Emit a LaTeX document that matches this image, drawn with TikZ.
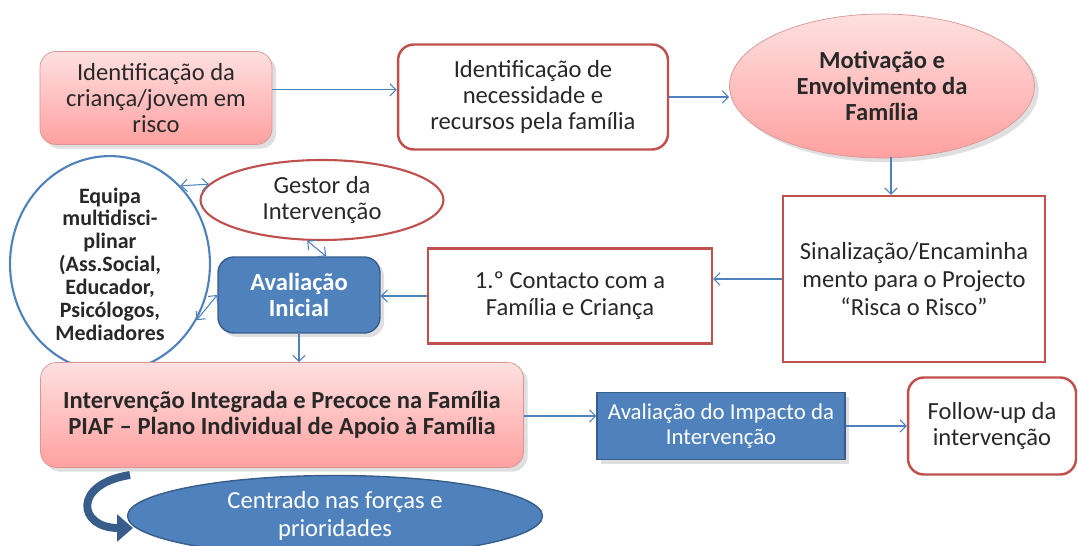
\documentclass[tikz,border=0pt]{standalone}
\usepackage{fontspec}
\setmainfont{Carlito}
\usetikzlibrary{shapes.geometric,shadows,arrows.meta}
\definecolor{lineblue}{RGB}{79,129,189}
\definecolor{darkblue}{RGB}{56,93,138}
\definecolor{boxred}{RGB}{192,80,77}
\definecolor{pinktop}{RGB}{255,224,224}
\definecolor{pinkbot}{RGB}{255,160,160}
\definecolor{textgray}{RGB}{40,40,40}
\tikzstyle{txt}=[font=\fontsize{14}{14.8}\selectfont,text=textgray,align=center,inner sep=1pt]
\tikzstyle{pinkbox}=[txt,rectangle,rounded corners=9pt,draw=boxred!60,top color=pinktop,bottom color=pinkbot,drop shadow={opacity=0.25}]
\tikzstyle{whitebox}=[txt,rectangle,draw=boxred,line width=1.4pt,fill=white]
\tikzstyle{bluebox}=[txt,rectangle,draw=darkblue,line width=0.8pt,fill=lineblue,text=white,drop shadow={opacity=0.25}]
\tikzstyle{oval}=[txt,ellipse,inner sep=0pt]
\tikzstyle{edge}=[draw,lineblue,line width=0.6pt,-{Straight Barb[length=3.5pt,width=7pt]}]
\tikzstyle{twoway}=[draw,lineblue,line width=0.6pt,{Straight Barb[length=3.5pt,width=7pt]}-{Straight Barb[length=3.5pt,width=7pt]}]

\begin{document}
\begin{tikzpicture}[x=0.02cm,y=-0.02cm]
\useasboundingbox (0,0) rectangle (1078,546);

% top row
\node[pinkbox,minimum width=4.64cm,minimum height=1.86cm] (crianca) at (156,98) {Identificação da\\criança/jovem em\\risco};
\node[whitebox,rounded corners=9pt,minimum width=5.4cm,minimum height=2.1cm] (necessidade) at (533,97) {Identificação de\\necessidade e\\recursos pela família};
\node[oval,draw=boxred!60,top color=pinktop,bottom color=pinkbot,minimum width=6.1cm,minimum height=2.88cm,font=\fontsize{14}{14.8}\selectfont\bfseries,drop shadow={opacity=0.25}] (motivacao) at (882,86) {Motivação e\\Envolvimento da\\Família};

% middle row
\node[whitebox,minimum width=5.24cm,minimum height=3.32cm,font=\fontsize{14}{16}\selectfont] (sinalizacao) at (914,279) {Sinalização/Encaminha\\mento para o Projecto\\“Risca o Risco”};
\node[whitebox,minimum width=5.68cm,minimum height=1.9cm,font=\fontsize{14}{15.5}\selectfont] (contacto) at (570,296) {1.º Contacto com a\\Família e Criança};
\node[bluebox,rounded corners=9pt,minimum width=3.24cm,minimum height=1.52cm,font=\fontsize{14}{14.8}\selectfont\bfseries] (avaliacao) at (299,295) {Avaliação\\Inicial};
\node[oval,draw=boxred,line width=1.2pt,fill=white,minimum width=4.86cm,minimum height=1.6cm] (gestor) at (322,200) {Gestor da\\Intervenção};
\node[oval,draw=lineblue,line width=1.2pt,fill=white,minimum width=4cm,minimum height=3.6cm,font=\fontsize{12.5}{13}\selectfont\bfseries] (equipa) at (110,264) {Equipa\\multidisci-\\plinar\\(Ass.Social,\\Educador,\\Psicólogos,\\Mediadores};

% bottom row
\node[pinkbox,minimum width=9.66cm,minimum height=2.1cm,font=\fontsize{14}{14.8}\selectfont\bfseries] (intervencao) at (282,415) {Intervenção Integrada e Precoce na Família\\PIAF – Plano Individual de Apoio à Família};
\node[bluebox,minimum width=4.96cm,minimum height=1.34cm,font=\fontsize{13}{14.5}\selectfont] (impacto) at (721,426) {Avaliação do Impacto da\\Intervenção};
\node[whitebox,rounded corners=9pt,minimum width=3.36cm,minimum height=1.94cm] (followup) at (992,426) {Follow-up da\\intervenção};
\node[oval,draw=darkblue,line width=0.8pt,fill=lineblue,text=white,minimum width=8.3cm,minimum height=1.62cm,font=\fontsize{14}{15.5}\selectfont] (centrado) at (335,516) {Centrado nas forças e\\prioridades};

% connectors
\path[edge] (crianca.4) -- (crianca.4 -| necessidade.west);
\path[edge] (necessidade.east) -- (necessidade.east -| motivacao.west);
\path[edge] (sinalizacao.north -| 891,0) ++(0,-38) -- (sinalizacao.north -| 891,0);
\path[edge] (sinalizacao.west) -- (sinalizacao.west -| contacto.east);
\path[edge] (contacto.west) -- (contacto.west -| avaliacao.east);
\path[edge] (avaliacao.south) -- (avaliacao.south |- intervencao.north);
\path[edge] (intervencao.east |- 0,416) -- (impacto.west |- 0,416);
\path[edge] (impacto.east) -- (impacto.east -| followup.west);

\foreach \source/\dest in {gestor.250/avaliacao.55, gestor.172/equipa.48, avaliacao.west/equipa.-33}
    \path[twoway] (\source) -- (\dest);

% curved arrow towards the ellipse
\coordinate (bendstart) at (130,475);
\coordinate (bendend) at (133,528);
\draw[darkblue,line width=4.5pt,-{Triangle[length=9pt,width=15pt]}] (bendstart) .. controls (72,484) and (78,528) .. (bendend);

\end{tikzpicture}
\end{document}
